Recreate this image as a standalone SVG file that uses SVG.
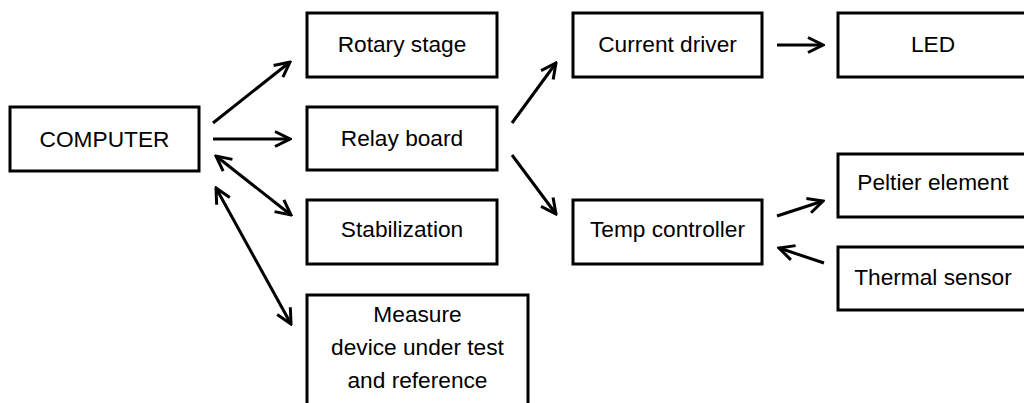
<svg xmlns="http://www.w3.org/2000/svg" width="1024" height="403" viewBox="0 0 1024 403">
<style>
.box{fill:#fff;stroke:#000;stroke-width:3}
.t{font-family:"Liberation Sans",Arial,sans-serif;font-size:22.7px;fill:#000;text-anchor:middle}
.c{fill:none;stroke:#000;stroke-width:3;marker-end:url(#ah)}
.d{marker-start:url(#ah)}
</style>
<defs>
<marker id="ah" markerUnits="userSpaceOnUse" viewBox="-18 -10 20 20" refX="0" refY="0" markerWidth="20" markerHeight="20" orient="auto-start-reverse">
<path d="M-15,-7.5 L0,0 L-15,7.5" fill="none" stroke="#000" stroke-width="3"/>
</marker>
</defs>
<rect width="1024" height="403" fill="#fff"/>
<g id="computer"><rect class="box" x="10" y="107" width="189" height="64"/><text class="t" x="104.5" y="147">COMPUTER</text></g>
<g id="rotary"><rect class="box" x="307" y="13" width="190" height="64"/><text class="t" x="402" y="52">Rotary stage</text></g>
<g id="relay"><rect class="box" x="307" y="107" width="190" height="63"/><text class="t" x="402" y="146">Relay board</text></g>
<g id="stab"><rect class="box" x="307" y="200" width="190" height="64"/><text class="t" x="402" y="237">Stabilization</text></g>
<g id="measure"><rect class="box" x="307" y="295" width="221" height="120"/><text class="t" x="417.5" y="322">Measure</text><text class="t" x="417.5" y="355">device under test</text><text class="t" x="417.5" y="388">and reference</text></g>
<g id="driver"><rect class="box" x="573" y="13" width="189" height="64"/><text class="t" x="667.5" y="52">Current driver</text></g>
<g id="temp"><rect class="box" x="573" y="200" width="189" height="64"/><text class="t" x="667.5" y="237">Temp controller</text></g>
<g id="led"><rect class="box" x="838" y="13" width="195" height="64"/><text class="t" x="933" y="52">LED</text></g>
<g id="peltier"><rect class="box" x="838" y="154" width="195" height="63"/><text class="t" x="933" y="190">Peltier element</text></g>
<g id="thermal"><rect class="box" x="838" y="247" width="195" height="63"/><text class="t" x="933" y="285">Thermal sensor</text></g>
<g id="connectors">
<line class="c" x1="213" y1="123" x2="290" y2="62"/>
<line class="c" x1="213" y1="139" x2="290" y2="139"/>
<line class="c d" x1="216" y1="156" x2="291" y2="215"/>
<line class="c d" x1="216" y1="188" x2="291" y2="324"/>
<line class="c" x1="512" y1="123" x2="556" y2="63"/>
<line class="c" x1="512" y1="155" x2="556" y2="214"/>
<line class="c" x1="777" y1="45" x2="823" y2="45"/>
<line class="c" x1="777" y1="216" x2="823" y2="201"/>
<line class="c" x1="824" y1="263" x2="779" y2="248"/>
</g>
</svg>
